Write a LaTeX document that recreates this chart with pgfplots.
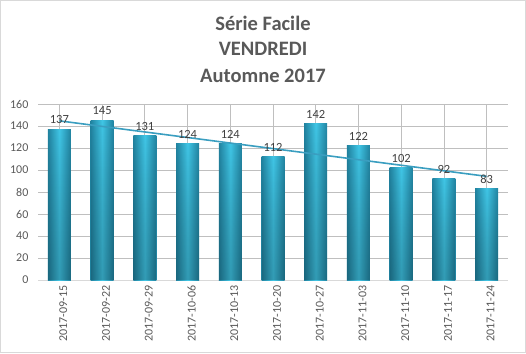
\documentclass[border=0pt]{standalone}
\usepackage{pgfplots}
\pgfplotsset{compat=1.18}
\usetikzlibrary{fadings}
\usepackage{fontspec}
\setmainfont{Carlito}
\definecolor{txt}{HTML}{595959}
\definecolor{grid}{HTML}{D9D9D9}
\definecolor{bardark}{HTML}{2183A0}
\definecolor{barlight}{HTML}{40C6E6}
\definecolor{trend}{HTML}{3A9EC0}
\begin{document}
\begin{tikzpicture}[x=1pt,y=1pt]
\draw[grid, line width=1pt] (0.5,0.5) rectangle (525.5,352.5);
\node[font=\fontsize{20.5}{22}\selectfont\bfseries, text=txt] at (263,330) {Série Facile};
\node[font=\fontsize{20.5}{22}\selectfont\bfseries, text=txt] at (263,304) {VENDREDI};
\node[font=\fontsize{20.5}{22}\selectfont\bfseries, text=txt] at (263,277.5) {Automne 2017};
\begin{axis}[
  at={(38pt,73pt)}, anchor=south west,
  width=470pt, height=176pt, scale only axis,
  ymin=0, ymax=160, ytick={0,20,...,160},
  xmin=-0.5, xmax=10.5,
  xtick={0,...,10},
  xticklabels={2017-09-15,2017-09-22,2017-09-29,2017-10-06,2017-10-13,2017-10-20,2017-10-27,2017-11-03,2017-11-10,2017-11-17,2017-11-24},
  x tick label style={rotate=90, anchor=east, font=\fontsize{12}{12}\selectfont, text=txt},
  y tick label style={font=\fontsize{12}{12}\selectfont, text=txt},
  /pgf/number format/assume math mode=true,
  ymajorgrids, grid style={grid, line width=0.8pt},
  axis x line=bottom, axis y line=left,
  y axis line style={draw=none},
  x axis line style={grid, line width=0.8pt, -},
  xtick style={draw=none}, ytick style={draw=none},
  yticklabel style={xshift=-4pt},
  xticklabel style={yshift=-4pt},
  clip=false,
  bar/.style={ybar, bar width=23pt, bar shift=0pt, draw=none, left color=bardark, right color=bardark, middle color=barlight,
  postaction={fill=black, fill opacity=0.3, path fading=north},
  nodes near coords, nodes near coords style={font=\fontsize{12.5}{12}\selectfont, text=black!75, yshift=2pt}},
]
\addplot[bar] coordinates {(0,137)};
\addplot[bar] coordinates {(1,145)};
\addplot[bar] coordinates {(2,131)};
\addplot[bar] coordinates {(3,124)};
\addplot[bar] coordinates {(4,124)};
\addplot[bar] coordinates {(5,112)};
\addplot[bar] coordinates {(6,142)};
\addplot[bar] coordinates {(7,122)};
\addplot[bar] coordinates {(8,102)};
\addplot[bar] coordinates {(9,92)};
\addplot[bar] coordinates {(10,83)};
\addplot[trend, line width=1.6pt, no marks] coordinates {(0,144.68) (10,94.23)};
\end{axis}
\end{tikzpicture}
\end{document}
